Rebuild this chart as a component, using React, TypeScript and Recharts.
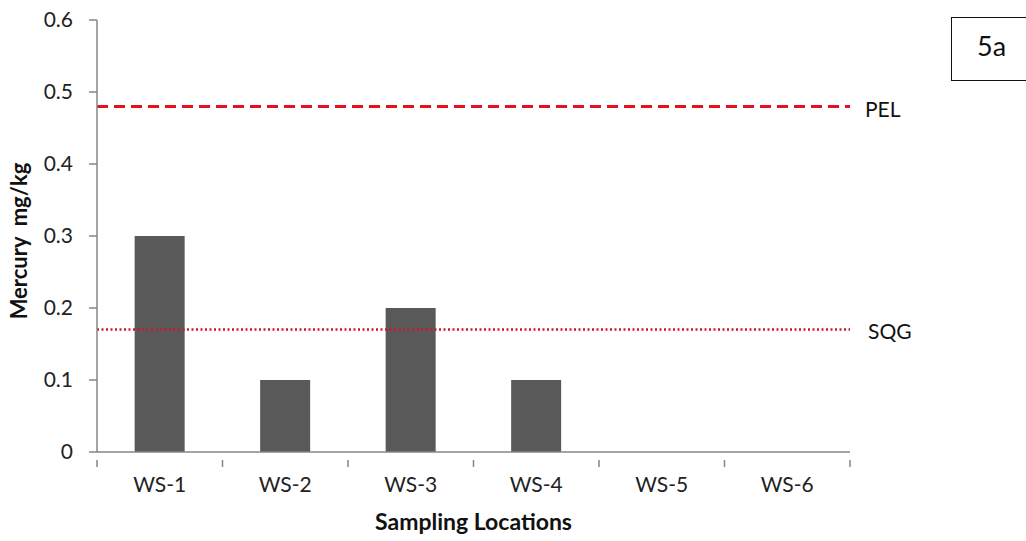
import React from 'react';
import { BarChart, Bar, XAxis, YAxis, ReferenceLine, Label } from 'recharts';

const categories = ['WS-1', 'WS-2', 'WS-3', 'WS-4', 'WS-5', 'WS-6'];
const mercury = [0.3, 0.1, 0.2, 0.1, 0, 0];
const yTicks = [0, 0.1, 0.2, 0.3, 0.4, 0.5, 0.6];
const PEL = 0.48;
const SQG = 0.17;

const data = categories.map((c, i) => ({ name: c, value: mercury[i] }));

const W = 1026;
const H = 541;
const M = { top: 20, right: 176, left: 0, bottom: 0 };
const Y_W = 97;
const X_H = 89;
const FONT = 'Lato, "Open Sans", sans-serif';
const AXIS = '#868686';

const plotWidth = W - M.left - M.right - Y_W;
const half = plotWidth / categories.length / 2;

const XTick = (props: any) => {
  const { x, y, payload, index } = props;
  const last = index === categories.length - 1;
  return (
    <g>
      <line x1={x - half} x2={x - half} y1={y} y2={y + 7} stroke={AXIS} strokeWidth={1.5} />
      {last && <line x1={x + half} x2={x + half} y1={y} y2={y + 7} stroke={AXIS} strokeWidth={1.5} />}
      <text x={x} y={y + 32} textAnchor="middle" fontFamily={FONT} fontSize={21} fill="#222">
        {payload.value}
      </text>
    </g>
  );
};

export default function App() {
  return (
    <div style={{ position: 'absolute', left: 0, top: 0, width: W, height: H, background: '#fff', overflow: 'hidden' }}>
      <BarChart width={W} height={H} data={data} margin={M} barCategoryGap="30%">
        <XAxis
          dataKey="name"
          height={X_H}
          axisLine={{ stroke: AXIS, strokeWidth: 1.5 }}
          tickLine={false}
          tick={<XTick />}
          interval={0}
        >
          <Label
            value="Sampling Locations"
            position="insideBottom"
            offset={11}
            style={{ fontFamily: FONT, fontWeight: 700, fontSize: 23, fill: '#111' }}
          />
        </XAxis>
        <YAxis
          width={Y_W}
          domain={[0, 0.6]}
          ticks={yTicks}
          interval={0}
          tickFormatter={(v: number) => (v === 0 ? '0' : v.toFixed(1))}
          axisLine={{ stroke: AXIS, strokeWidth: 1.5 }}
          tickLine={{ stroke: AXIS, strokeWidth: 1.5 }}
          tickSize={8}
          tickMargin={16}
          tick={{ fontFamily: FONT, fontSize: 21, fill: '#222' }}
        >
          <Label
            value={'Mercury\u00a0 mg/kg'}
            angle={-90}
            position="insideLeft"
            offset={19}
            dy={5}
            style={{ fontFamily: FONT, fontWeight: 700, fontSize: 22, fill: '#111', textAnchor: 'middle' }}
          />
        </YAxis>
        <Bar dataKey="value" fill="#595959" isAnimationActive={false} />
        <ReferenceLine y={PEL} stroke="#e3121b" strokeWidth={3} strokeDasharray="11 6">
          <Label value="PEL" position="right" offset={15} dy={3} style={{ fontFamily: FONT, fontSize: 21, fill: '#111' }} />
        </ReferenceLine>
        <ReferenceLine y={SQG} stroke="#d2162a" strokeWidth={2.5} strokeDasharray="2 2.5">
          <Label value="SQG" position="right" offset={18} dy={2} style={{ fontFamily: FONT, fontSize: 21, fill: '#111' }} />
        </ReferenceLine>
      </BarChart>
      <div
        style={{
          position: 'absolute',
          left: 951,
          top: 17,
          width: 90,
          height: 64,
          border: '1.5px solid #111',
          boxSizing: 'border-box',
          fontFamily: FONT,
          fontSize: 27,
          color: '#111',
          lineHeight: '56px',
          paddingLeft: 25,
        }}
      >
        5a
      </div>
    </div>
  );
}
